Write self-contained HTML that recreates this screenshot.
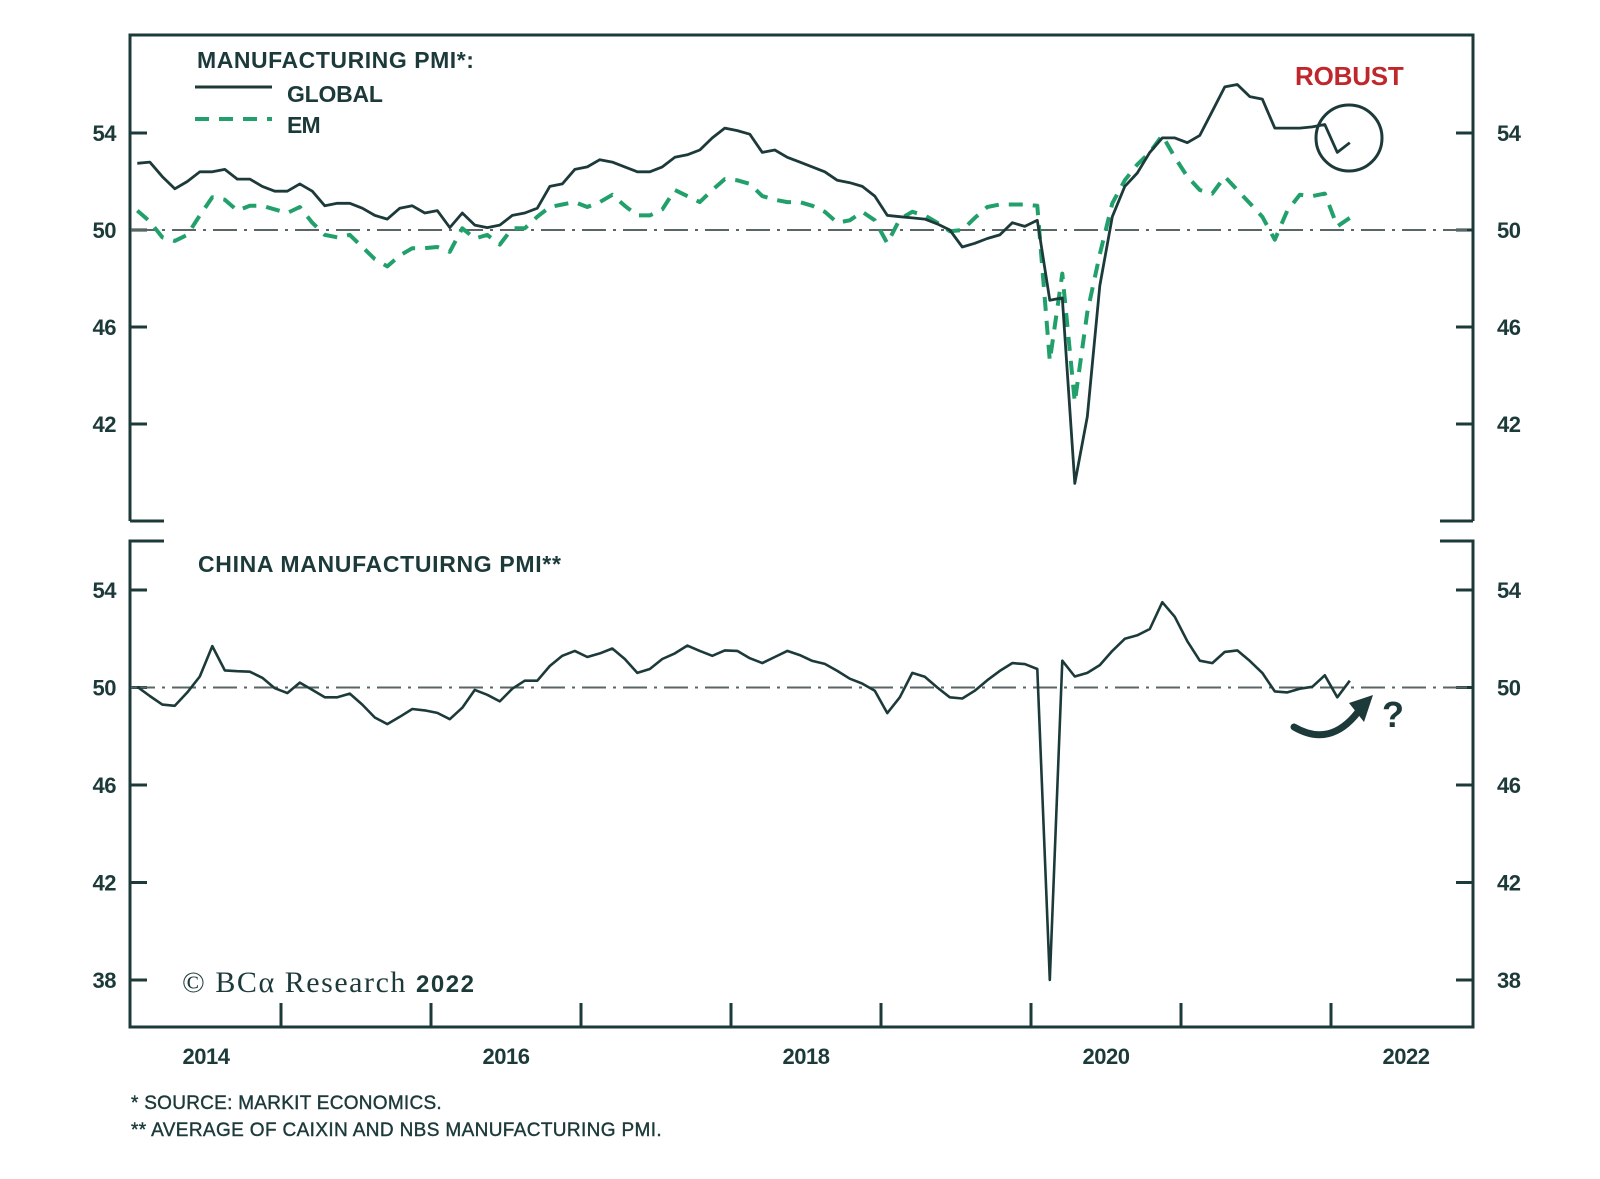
<!DOCTYPE html>
<html><head><meta charset="utf-8"><style>
html,body{margin:0;padding:0;background:#fff;}
svg{display:block;}
text{font-family:"Liberation Sans",sans-serif;fill:#1d3a3a;}
.lbl{font-size:22px;font-weight:bold;letter-spacing:-0.5px;}
.ttl{font-size:23px;font-weight:bold;letter-spacing:-0.9px;}
.fn{font-size:19px;letter-spacing:-0.7px;stroke:#1d3a3a;stroke-width:0.4px;}
</style></head><body>
<svg id="chart" width="1600" height="1179" viewBox="0 0 1600 1179">
<g id="frame" stroke="#1d3a3a" stroke-width="3" fill="none">
<path d="M130,521 V35 H1473 V521"/>
<path d="M130,521 H164 M1473,521 H1440"/>
<path d="M164,541 H130 V1027 H1473 V541 H1440"/>
</g>
<g id="ticks" stroke="#1d3a3a" stroke-width="3"></g>
<g id="labels"></g>
<g id="series"></g>
<text class="ttl" x="197" y="68" textLength="276">MANUFACTURING PMI*:</text>
<line x1="195" y1="87" x2="272" y2="87" stroke="#1d3a3a" stroke-width="3"/>
<text class="ttl" x="287" y="102" textLength="95">GLOBAL</text>
<line x1="195" y1="119" x2="272" y2="119" stroke="#22a06b" stroke-width="4" stroke-dasharray="14,10"/>
<text class="ttl" x="287" y="133">EM</text>
<text x="1295" y="85" textLength="108" style="font-size:26px;font-weight:bold;fill:#c0272d;letter-spacing:-0.8px">ROBUST</text>
<circle cx="1349" cy="138" r="33" fill="none" stroke="#1d3a3a" stroke-width="3"/>
<text class="ttl" x="198" y="572" textLength="362">CHINA MANUFACTUIRNG PMI**</text>
<path d="M1294,727 Q1330,748 1358,712" fill="none" stroke="#1d3a3a" stroke-width="7" stroke-linecap="round"/>
<polygon points="1373,695 1349,703 1364,722" fill="#1d3a3a"/>
<text x="1382" y="727" style="font-size:36px;font-weight:bold;fill:#1d3a3a">?</text>
<text x="182" y="992" textLength="292" style="font-family:'Liberation Serif',serif;font-size:30px;fill:#1d3a3a">© BCα Research <tspan style="font-family:'Liberation Sans',sans-serif;font-weight:bold;font-size:24px">2022</tspan></text>
<text class="fn" x="131" y="1109" textLength="310">*  SOURCE: MARKIT ECONOMICS.</text>
<text class="fn" x="131" y="1136" textLength="530">** AVERAGE OF CAIXIN AND NBS MANUFACTURING PMI.</text>
</svg>
<script>
const yTicks = [54, 50, 46, 42];
const yTicksBottom = [54, 50, 46, 42, 38];
const xYears = [2014, 2016, 2018, 2020, 2022];
const global = [52.75,52.8,52.2,51.7,52.0,52.4,52.4,52.5,52.1,52.1,51.8,51.6,51.6,51.9,51.6,51.0,51.1,51.1,50.9,50.6,50.45,50.9,51.0,50.7,50.8,50.1,50.7,50.2,50.1,50.2,50.6,50.7,50.9,51.8,51.9,52.5,52.6,52.9,52.8,52.6,52.4,52.4,52.6,53.0,53.1,53.3,53.8,54.2,54.1,53.95,53.2,53.3,53.0,52.8,52.6,52.4,52.05,51.95,51.8,51.4,50.6,50.55,50.5,50.45,50.25,50.0,49.3,49.45,49.65,49.8,50.3,50.15,50.4,47.1,47.2,39.55,42.3,47.7,50.55,51.8,52.35,53.2,53.8,53.8,53.6,53.9,54.9,55.9,56.0,55.5,55.4,54.2,54.2,54.2,54.25,54.35,53.2,53.6];
const em = [50.8,50.35,49.7,49.55,49.8,50.6,51.35,51.25,50.8,51.0,51.0,50.85,50.7,50.95,50.3,49.8,49.7,49.8,49.3,48.8,48.5,48.95,49.25,49.25,49.3,49.1,50.07,49.65,49.8,49.4,50.07,50.07,50.55,50.95,51.05,51.15,50.95,51.15,51.45,51.0,50.6,50.6,50.85,51.65,51.4,51.15,51.65,52.1,52.05,51.9,51.4,51.25,51.15,51.15,51.0,50.75,50.3,50.4,50.75,50.4,49.45,50.45,50.75,50.6,50.3,49.95,50.0,50.5,50.95,51.05,51.05,51.05,51.0,44.6,48.2,42.9,46.6,49.0,51.1,52.05,52.7,53.2,53.9,53.0,52.2,51.65,51.5,52.2,51.65,51.1,50.55,49.6,50.8,51.45,51.4,51.5,50.15,50.5];
const china = [50.03,49.65,49.3,49.25,49.8,50.45,51.7,50.7,50.67,50.65,50.4,49.97,49.77,50.2,49.9,49.6,49.6,49.75,49.3,48.77,48.5,48.8,49.12,49.06,48.96,48.7,49.17,49.9,49.7,49.43,49.95,50.28,50.28,50.88,51.3,51.5,51.25,51.4,51.6,51.17,50.6,50.76,51.17,51.4,51.72,51.5,51.3,51.52,51.5,51.2,51.0,51.25,51.5,51.33,51.09,50.97,50.68,50.36,50.16,49.87,48.95,49.6,50.6,50.44,50.0,49.6,49.55,49.87,50.3,50.68,51.0,50.96,50.76,38.0,51.1,50.45,50.6,50.92,51.5,52.0,52.14,52.4,53.5,52.9,51.9,51.1,51.0,51.46,51.52,51.09,50.6,49.84,49.8,49.95,50.03,50.5,49.6,50.28];

const NS = 'http://www.w3.org/2000/svg';
const X0 = 131, MONTH = 12.5;
function xm(i){ return X0 + (i + 0.5) * MONTH; }
function xYear(y){ return X0 + (y - 2014) * 12 * MONTH + 6 * MONTH; }
function yTop(v){ return 230 - (v - 50) * 24.25; }
function yBot(v){ return 687.5 - (v - 50) * 24.375; }
function mk(tag, attrs, parent){ const e = document.createElementNS(NS, tag); for (const k in attrs) e.setAttribute(k, attrs[k]); parent.appendChild(e); return e; }

const ticks = document.getElementById('ticks');
const labels = document.getElementById('labels');
const series = document.getElementById('series');

function axisTicks(vals, yf, panel){
  vals.forEach(v => {
    const y = yf(v);
    const l = mk('path', {d:`M130,${y} H147 M1473,${y} H1456`}, ticks);
    
    
    const t1 = mk('text', {x:116, y:y+8, 'text-anchor':'end', class:'lbl'}, labels);
    t1.textContent = v;
    
    
    const t2 = mk('text', {x:1497, y:y+8, class:'lbl'}, labels);
    t2.textContent = v;
    
    
  });
  const ref = mk('line', {x1:131, x2:1472, y1:yf(50), y2:yf(50), stroke:'#5a6666', 'stroke-width':2, 'stroke-dasharray':'24,7,3,7'}, series);
  
  
}
axisTicks(yTicks, yTop, 'top');
axisTicks(yTicksBottom, yBot, 'bottom');

for (let k = 1; k <= 8; k++){
  const x = X0 + k * 12 * MONTH;
  const t = mk('line', {x1:x, x2:x, y1:1027, y2:1003}, ticks);
  
  
}
xYears.forEach(yr => {
  const t = mk('text', {x:xYear(yr), y:1064, 'text-anchor':'middle', class:'lbl'}, labels);
  t.textContent = yr;
  
  
});

function line(data, yf, attrs){
  const d = data.map((v, i) => (i ? 'L' : 'M') + xm(i).toFixed(1) + ',' + yf(v).toFixed(1)).join(' ');
  return mk('path', Object.assign({d:d, fill:'none', 'stroke-linejoin':'round'}, attrs), series);
}
const pe = line(em, yTop, {stroke:'#22a06b', 'stroke-width':4, 'stroke-dasharray':'14,10'});


const pg = line(global, yTop, {stroke:'#1d3a3a', 'stroke-width':2.8});


const pc = line(china, yBot, {stroke:'#1d3a3a', 'stroke-width':2.6});


</script>
</body></html>
